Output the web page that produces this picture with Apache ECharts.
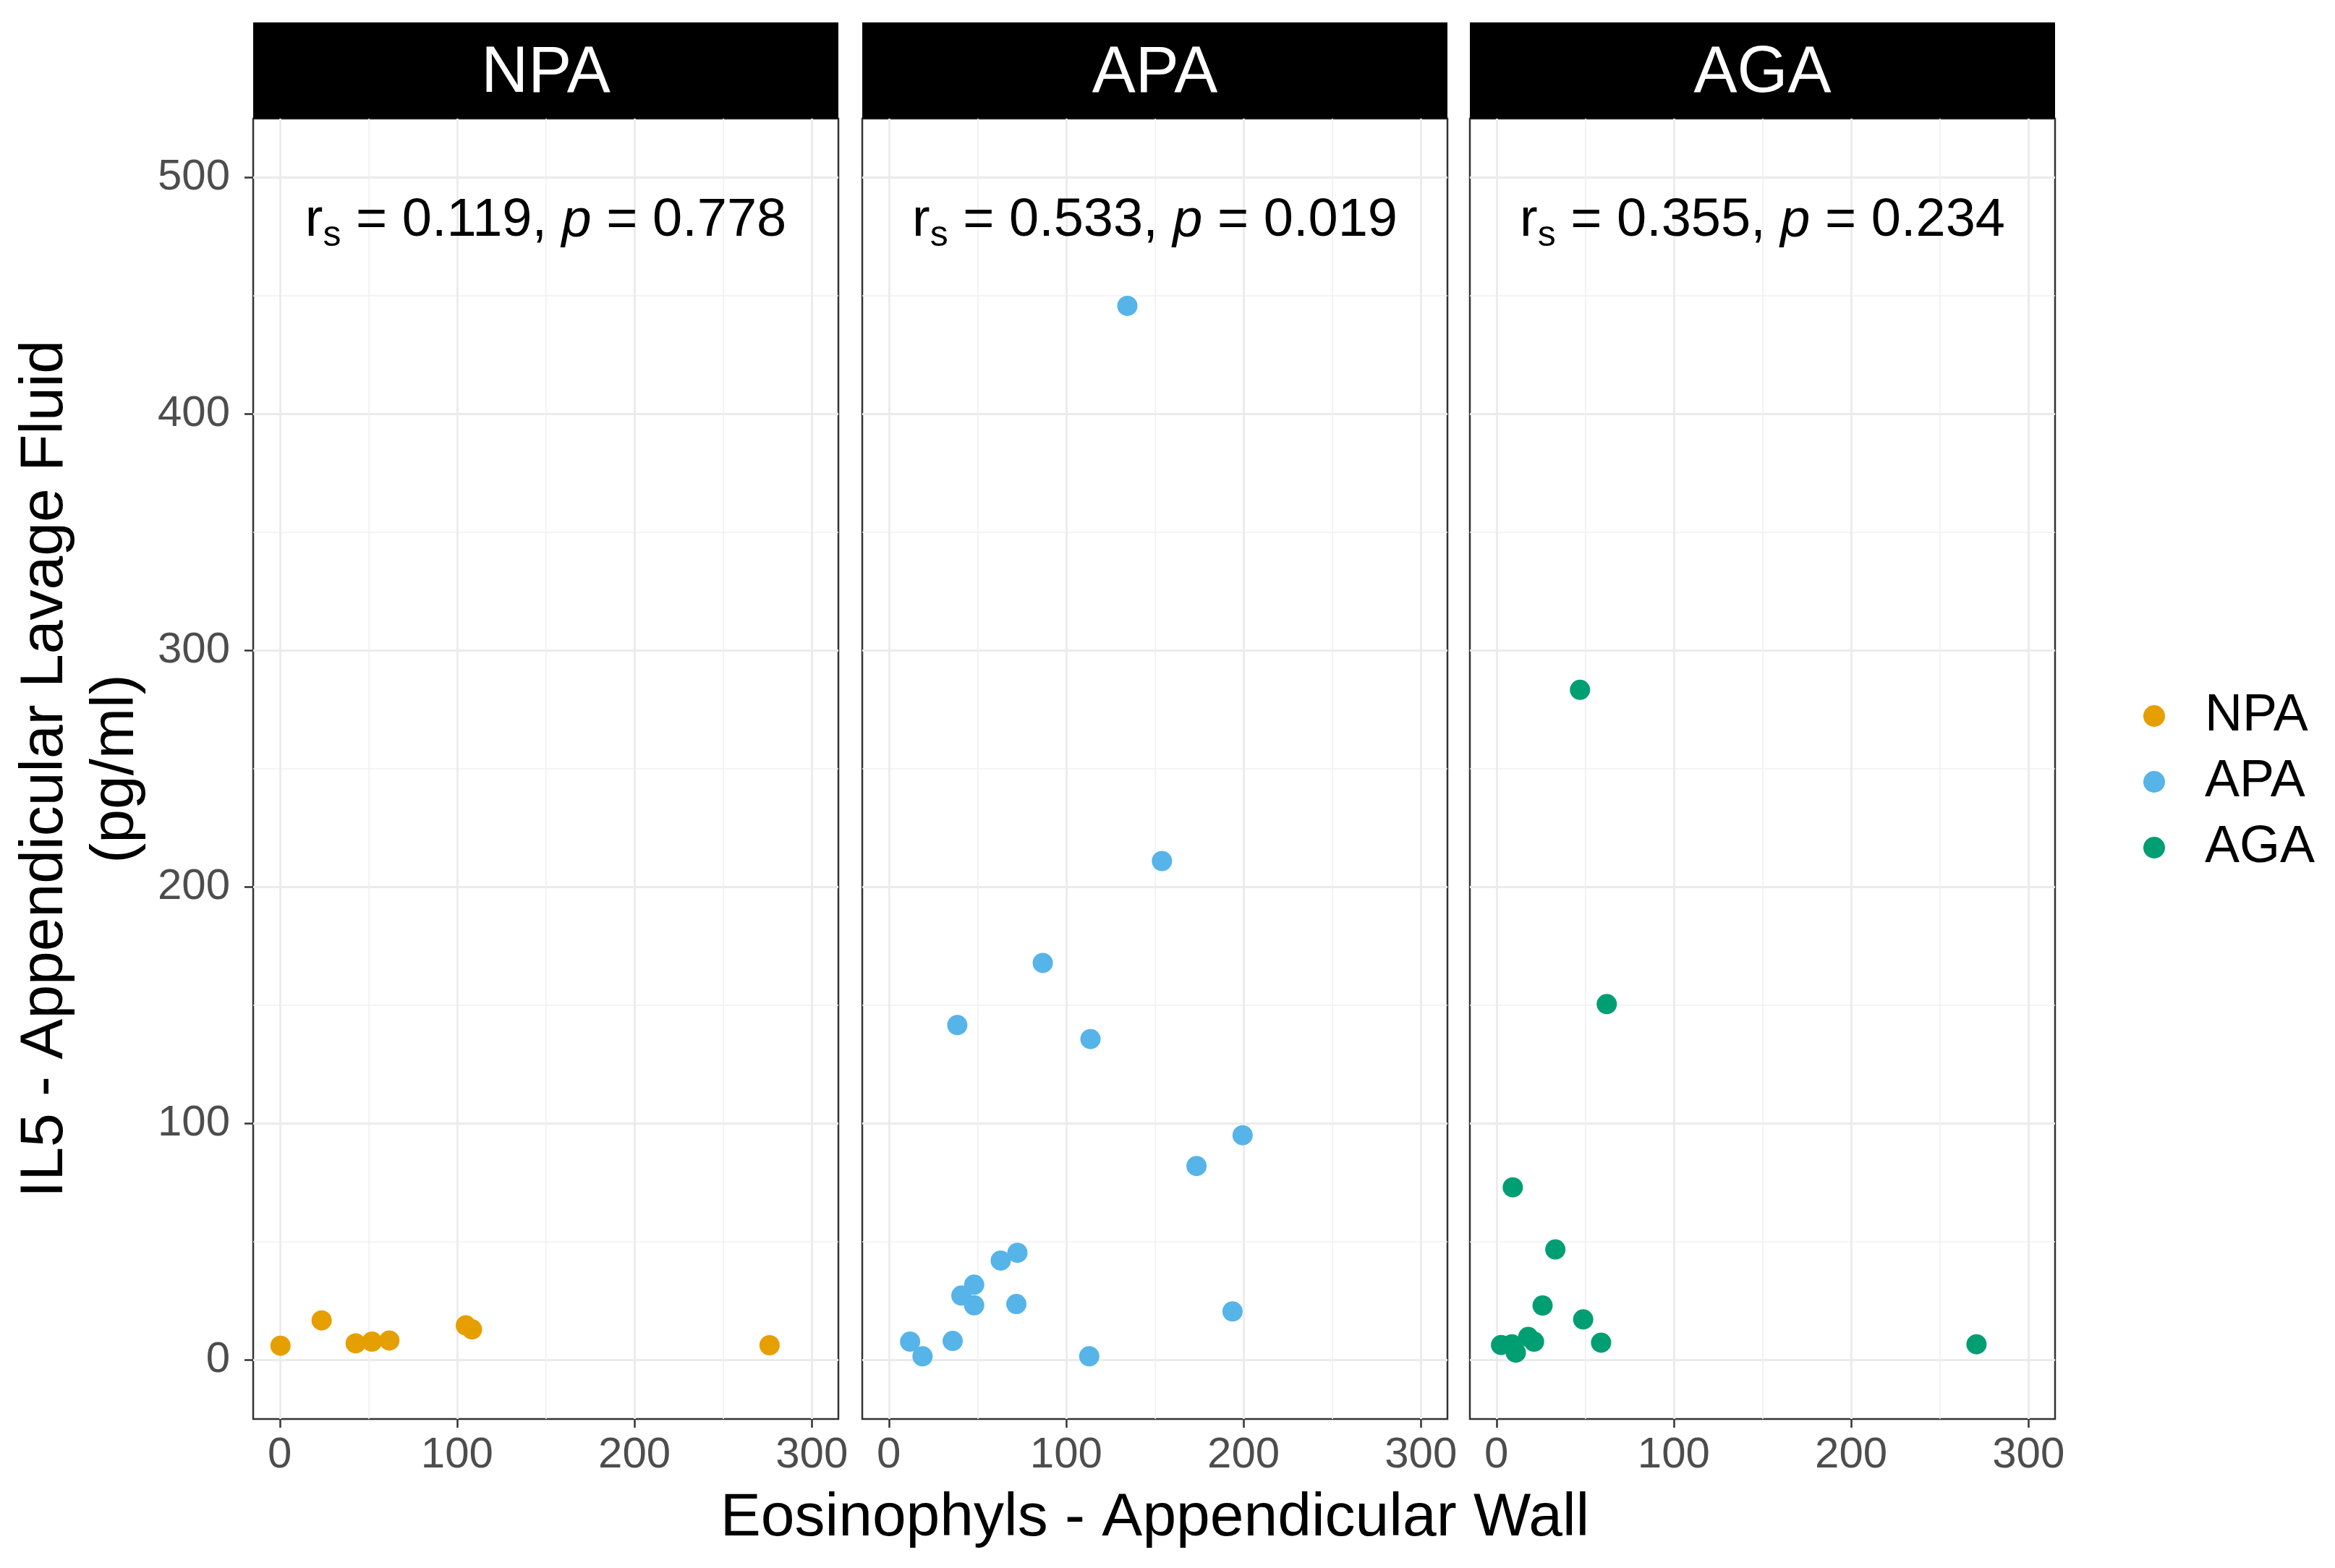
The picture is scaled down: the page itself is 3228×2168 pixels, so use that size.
<!DOCTYPE html>
<html>
<head>
<meta charset="utf-8">
<title>IL5 vs Eosinophyls</title>
<script src="https://cdn.jsdelivr.net/npm/echarts@6/dist/echarts.min.js"></script>
<style>
    html, body { margin: 0; padding: 0; background: #fff; }
    #facet_scatter { width: 3228px; height: 2168px; }
</style>
</head>
<body>
<div id="facet_scatter"></div>
<script>
// Data
// ------------------------------

var groups = ['NPA', 'APA', 'AGA'];
var groupColors = ['#E69F00', '#56B4E9', '#009E73'];
var statLabels = [
    ['0.119', '0.778'],
    ['0.533', '0.019'],
    ['0.355', '0.234']
];

var npaX = [0.4, 23.6, 42.8, 52, 61.8, 104.9, 108.4, 276.2];
var npaY = [6.0, 16.7, 7.0, 7.7, 8.2, 14.6, 12.9, 6.2];

var apaX = [134.5, 154, 86.8, 38.6, 113.7, 199.5, 173.5, 72.5, 63.1, 48.1, 40.9, 48.1, 71.9, 193.8, 12, 19, 36, 113];
var apaY = [445.8, 211, 167.9, 141.6, 135.7, 95, 82, 45.3, 42, 31.8, 27.2, 23.1, 23.6, 20.5, 7.7, 1.5, 8, 1.5];

var agaX = [9.2, 33.2, 26, 48.9, 59, 2.6, 8.7, 10.9, 17.9, 21.2, 270.7, 47.1, 62.2];
var agaY = [73, 46.7, 23, 17.1, 7.3, 6.3, 6.6, 3.1, 9.7, 7.7, 6.6, 283.4, 150.5];

var xTicks = [0, 100, 200, 300];
var yTicks = [0, 100, 200, 300, 400, 500];


// Setup module
// ------------------------------

var FacetScatter = function() {

    var pairs = function(xs, ys) {
        return xs.map(function(x, i) { return [x, ys[i]]; });
    };

    var _facetScatter = function() {
        if (typeof echarts == 'undefined') {
            console.warn('Warning - echarts.min.js is not loaded.');
            return;
        }

        var element = document.getElementById('facet_scatter');
        if (!element) return;

        var chart = echarts.init(element);

        var fontFamily = '"Liberation Sans", Arial, sans-serif';
        var panelLeft = [350, 1192, 2032];
        var panelWidth = 809;
        var panelTop = 164;
        var panelHeight = 1798;
        var seriesData = [pairs(npaX, npaY), pairs(apaX, apaY), pairs(agaX, agaY)];

        var grids = [], xAxes = [], yAxes = [], series = [], graphics = [];

        groups.forEach(function(name, i) {

            // Panel
            grids.push({
                left: panelLeft[i],
                top: panelTop,
                width: panelWidth,
                height: panelHeight,
                show: true,
                backgroundColor: '#fff',
                borderColor: '#333333',
                borderWidth: 2.5
            });

            // Horizontal axis
            xAxes.push({
                gridIndex: i,
                type: 'value',
                position: 'bottom',
                min: -15,
                max: 315,
                minInterval: 100,
                maxInterval: 100,
                axisLine: { show: false, onZero: false },
                axisTick: {
                    show: true,
                    length: 12,
                    customValues: xTicks,
                    lineStyle: { color: '#333333', width: 2.5 }
                },
                axisLabel: {
                    customValues: xTicks,
                    margin: 20,
                    color: '#4d4d4d',
                    fontSize: 60,
                    fontFamily: fontFamily
                },
                splitLine: { show: true, lineStyle: { color: '#ebebeb', width: 2.8 } },
                minorTick: { show: false, splitNumber: 2 },
                minorSplitLine: { show: true, lineStyle: { color: '#f0f0f0', width: 1.6 } },
                name: i === 1 ? 'Eosinophyls - Appendicular Wall' : '',
                nameLocation: 'middle',
                nameGap: 96,
                nameTextStyle: { color: '#000', fontSize: 84, fontFamily: fontFamily }
            });

            // Vertical axis
            yAxes.push({
                gridIndex: i,
                type: 'value',
                position: 'left',
                min: -25,
                max: 525,
                minInterval: 100,
                maxInterval: 100,
                axisLine: { show: false, onZero: false },
                axisTick: {
                    show: i === 0,
                    length: 12,
                    customValues: yTicks,
                    lineStyle: { color: '#333333', width: 2.5 }
                },
                axisLabel: {
                    show: i === 0,
                    customValues: yTicks,
                    margin: 32,
                    color: '#4d4d4d',
                    fontSize: 60,
                    fontFamily: fontFamily
                },
                splitLine: { show: true, lineStyle: { color: '#ebebeb', width: 2.8 } },
                minorTick: { show: false, splitNumber: 2 },
                minorSplitLine: { show: true, lineStyle: { color: '#f0f0f0', width: 1.6 } },
                name: i === 0 ? 'IL5 - Appendicular Lavage Fluid\n(pg/ml)' : '',
                nameLocation: 'middle',
                nameRotate: 90,
                nameGap: 140,
                nameTextStyle: { color: '#000', fontSize: 84, lineHeight: 98, fontFamily: fontFamily }
            });

            // Points
            series.push({
                name: name,
                type: 'scatter',
                xAxisIndex: i,
                yAxisIndex: i,
                symbol: 'circle',
                symbolSize: 28,
                itemStyle: { color: groupColors[i], opacity: 1 },
                data: seriesData[i]
            });

            // Strip header
            graphics.push({
                type: 'rect',
                left: panelLeft[i],
                top: 31,
                shape: { width: panelWidth, height: panelTop - 31 },
                style: { fill: '#000' }
            });
            graphics.push({
                type: 'text',
                x: panelLeft[i] + panelWidth / 2,
                y: (31 + panelTop) / 2 + 5,
                style: {
                    text: name,
                    fill: '#fff',
                    font: '90px ' + fontFamily,
                    align: 'center',
                    verticalAlign: 'middle'
                }
            });

            // Spearman annotation
            graphics.push({
                type: 'text',
                x: panelLeft[i] + panelWidth / 2,
                y: 306,
                z: 10,
                style: {
                    text: '{n|r}{sub|s}{n| = ' + statLabels[i][0] + ', }{it|p}{n| = ' + statLabels[i][1] + '}',
                    align: 'center',
                    verticalAlign: 'middle',
                    rich: {
                        n: { fontSize: 74, fontFamily: fontFamily, fill: '#000', lineHeight: 90, verticalAlign: 'middle' },
                        it: { fontSize: 74, fontStyle: 'italic', fontFamily: fontFamily, fill: '#000', lineHeight: 90, verticalAlign: 'middle' },
                        sub: { fontSize: 50, fontFamily: fontFamily, fill: '#000', lineHeight: 40, verticalAlign: 'bottom' }
                    }
                }
            });
        });

        chart.setOption({
            animation: false,
            textStyle: { fontFamily: fontFamily },
            legend: {
                data: groups,
                orient: 'vertical',
                left: 2958,
                top: 949,
                icon: 'circle',
                itemWidth: 30,
                itemHeight: 30,
                itemGap: 19,
                textStyle: {
                    color: '#000',
                    fontSize: 72,
                    lineHeight: 72,
                    fontFamily: fontFamily,
                    padding: [0, 0, 0, 50]
                }
            },
            grid: grids,
            xAxis: xAxes,
            yAxis: yAxes,
            series: series,
            graphic: graphics
        });
    };

    return {
        init: function() {
            _facetScatter();
        }
    }
}();


// Initialize module
// ------------------------------

document.addEventListener('DOMContentLoaded', function() {
    FacetScatter.init();
});
</script>
</body>
</html>
